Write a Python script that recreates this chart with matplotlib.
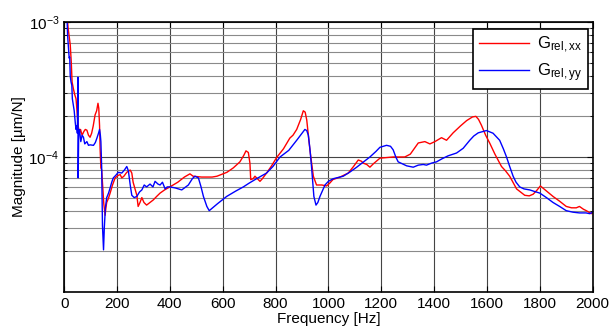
import matplotlib
matplotlib.use("Agg")
import matplotlib.pyplot as plt
from matplotlib.ticker import FixedLocator, LogLocator, NullFormatter, FixedFormatter

plt.rcParams['font.family'] = ['Liberation Sans', 'DejaVu Sans']
plt.rcParams['mathtext.fontset'] = 'custom'
plt.rcParams['mathtext.rm'] = 'Liberation Sans'
plt.rcParams['mathtext.it'] = 'Liberation Sans'

freq_xx = [5, 10, 15, 20, 23, 27, 30, 35, 40, 45, 50, 53, 58, 62, 68, 75, 80, 86, 92, 98, 104, 110, 117, 123, 128, 131, 134, 136, 139, 142, 146, 150, 155, 158, 161, 167, 174, 183, 193, 204, 212, 218, 226, 237, 250, 256, 261, 268, 275, 280, 287, 294, 302, 312, 325, 337, 350, 363, 380, 400, 430, 455, 476, 488, 520, 560, 578, 616, 640, 665, 680, 688, 697, 703, 706, 715, 722, 728, 741, 750, 766, 785, 804, 830, 854, 866, 880, 895, 905, 912, 918, 930, 943, 955, 975, 993, 1005, 1017, 1044, 1075, 1095, 1113, 1125, 1132, 1145, 1157, 1170, 1195, 1220, 1245, 1270, 1289, 1310, 1340, 1365, 1384, 1403, 1428, 1447, 1460, 1472, 1500, 1523, 1545, 1558, 1568, 1579, 1595, 1611, 1630, 1655, 1670, 1686, 1712, 1743, 1760, 1775, 1790, 1802, 1825, 1850, 1875, 1900, 1920, 1938, 1950, 1965, 1976, 1995, 2000]
mag_xx = [1.5e-3, 1.2e-3, 9e-4, 7.5e-4, 6.8e-4, 5e-4, 3.6e-4, 3.2e-4, 2.9e-4, 2.7e-4, 2.0e-4, 1.7e-4, 1.5e-4, 1.6e-4, 1.45e-4, 1.55e-4, 1.6e-4, 1.58e-4, 1.45e-4, 1.4e-4, 1.5e-4, 1.7e-4, 2.05e-4, 2.2e-4, 2.5e-4, 2.3e-4, 1.7e-4, 1.16e-4, 8.3e-5, 8.0e-5, 6e-5, 4.5e-5, 3.7e-5, 4.2e-5, 4.6e-5, 4.9e-5, 5.4e-5, 6.2e-5, 7e-5, 7.3e-5, 7.4e-5, 7e-5, 7.2e-5, 7.7e-5, 8e-5, 7.6e-5, 6.5e-5, 5.8e-5, 5.2e-5, 4.3e-5, 4.6e-5, 5e-5, 4.6e-5, 4.4e-5, 4.6e-5, 4.8e-5, 5.1e-5, 5.4e-5, 5.7e-5, 6e-5, 6.5e-5, 7.1e-5, 7.5e-5, 7.2e-5, 7.1e-5, 7.1e-5, 7.2e-5, 7.7e-5, 8.3e-5, 9.2e-5, 1.03e-4, 1.11e-4, 1.08e-4, 9e-5, 6.8e-5, 6.9e-5, 7.2e-5, 7e-5, 6.6e-5, 6.9e-5, 7.6e-5, 8.6e-5, 9.9e-5, 1.15e-4, 1.38e-4, 1.45e-4, 1.6e-4, 1.9e-4, 2.2e-4, 2.15e-4, 1.88e-4, 1.13e-4, 7.2e-5, 6.2e-5, 6.2e-5, 6.1e-5, 6.4e-5, 6.8e-5, 7.1e-5, 7.6e-5, 8.5e-5, 9.5e-5, 9.3e-5, 9e-5, 8.8e-5, 8.4e-5, 8.9e-5, 9.8e-5, 9.9e-5, 1.0e-4, 1.0e-4, 1.0e-4, 1.05e-4, 1.27e-4, 1.3e-4, 1.25e-4, 1.3e-4, 1.39e-4, 1.33e-4, 1.42e-4, 1.51e-4, 1.7e-4, 1.86e-4, 1.98e-4, 2.0e-4, 1.9e-4, 1.72e-4, 1.45e-4, 1.26e-4, 1.05e-4, 8.5e-5, 7.9e-5, 7.2e-5, 5.8e-5, 5.2e-5, 5.15e-5, 5.3e-5, 5.7e-5, 6.1e-5, 5.6e-5, 5.1e-5, 4.7e-5, 4.3e-5, 4.2e-5, 4.2e-5, 4.3e-5, 4.1e-5, 4.0e-5, 3.8e-5, 3.85e-5]

freq_yy = [5, 10, 13, 16, 19, 21, 23, 26, 29, 31, 35, 38, 42, 45, 48, 50, 52, 53, 55, 58, 63, 68, 73, 78, 86, 92, 98, 111, 118, 124, 130, 134, 137, 139, 142, 145, 149, 152, 156, 161, 168, 174, 180, 186, 195, 205, 218, 228, 237, 243, 250, 256, 265, 275, 285, 294, 303, 312, 325, 336, 344, 355, 363, 372, 382, 390, 400, 420, 445, 470, 485, 495, 508, 518, 527, 540, 549, 580, 615, 650, 678, 700, 728, 766, 790, 817, 850, 880, 900, 911, 918, 924, 930, 936, 945, 953, 960, 968, 987, 1000, 1018, 1056, 1080, 1107, 1130, 1157, 1180, 1195, 1220, 1235, 1245, 1255, 1264, 1296, 1321, 1340, 1359, 1371, 1390, 1409, 1430, 1453, 1485, 1510, 1535, 1550, 1567, 1598, 1623, 1648, 1662, 1674, 1686, 1699, 1710, 1724, 1740, 1762, 1780, 1800, 1825, 1850, 1875, 1900, 1925, 1950, 1975, 1989, 2000]
mag_yy = [1.5e-3, 1.2e-3, 8e-4, 6.5e-4, 5.4e-4, 5.5e-4, 4.0e-4, 3.6e-4, 3.4e-4, 2.7e-4, 2.4e-4, 2.2e-4, 1.8e-4, 1.6e-4, 1.7e-4, 1.5e-4, 3.9e-4, 7e-5, 1.5e-4, 1.6e-4, 1.3e-4, 1.45e-4, 1.4e-4, 1.25e-4, 1.3e-4, 1.22e-4, 1.23e-4, 1.22e-4, 1.28e-4, 1.38e-4, 1.5e-4, 1.6e-4, 1.45e-4, 1.3e-4, 8.3e-5, 3.1e-5, 2.05e-5, 3.0e-5, 4.2e-5, 5e-5, 5.4e-5, 5.9e-5, 6.5e-5, 7e-5, 7.3e-5, 7.7e-5, 7.6e-5, 8e-5, 8.5e-5, 7.9e-5, 6.2e-5, 5.2e-5, 5.0e-5, 5.1e-5, 5.5e-5, 5.7e-5, 6.2e-5, 6.0e-5, 6.3e-5, 6.0e-5, 6.6e-5, 6.3e-5, 6.2e-5, 6.5e-5, 5.8e-5, 6.0e-5, 6.0e-5, 5.9e-5, 5.7e-5, 6.2e-5, 6.9e-5, 7.2e-5, 7e-5, 6.0e-5, 5.1e-5, 4.3e-5, 4.0e-5, 4.5e-5, 5.1e-5, 5.6e-5, 6e-5, 6.4e-5, 6.9e-5, 7.6e-5, 8.5e-5, 1.0e-4, 1.12e-4, 1.33e-4, 1.5e-4, 1.6e-4, 1.57e-4, 1.45e-4, 1.15e-4, 8.5e-5, 5.1e-5, 4.4e-5, 4.6e-5, 5.1e-5, 6.2e-5, 6.6e-5, 6.9e-5, 7.2e-5, 7.7e-5, 8.4e-5, 9.1e-5, 1.0e-4, 1.1e-4, 1.18e-4, 1.22e-4, 1.2e-4, 1.13e-4, 1.0e-4, 9.2e-5, 8.6e-5, 8.4e-5, 8.7e-5, 8.8e-5, 8.7e-5, 9e-5, 9.2e-5, 9.7e-5, 1.02e-4, 1.07e-4, 1.16e-4, 1.33e-4, 1.43e-4, 1.51e-4, 1.57e-4, 1.5e-4, 1.33e-4, 1.15e-4, 1.0e-4, 8.5e-5, 7.2e-5, 6.5e-5, 6.0e-5, 5.8e-5, 5.7e-5, 5.55e-5, 5.4e-5, 5.0e-5, 4.6e-5, 4.3e-5, 4.0e-5, 3.9e-5, 3.85e-5, 3.85e-5, 3.8e-5, 3.9e-5]

x_ticks = [0, 200, 400, 600, 800, 1000, 1200, 1400, 1600, 1800, 2000]
y_ticks = [1e-4, 1e-3]
y_tick_labels = ['$10^{-4}$', '$10^{-3}$']
labels = ['G$_{\\mathrm{rel,xx}}$', 'G$_{\\mathrm{rel,yy}}$']

fig = plt.figure(figsize=(6.11, 3.34), dpi=100)
ax = fig.add_axes([0.105, 0.126, 0.865, 0.808])

ax.semilogy(freq_xx, mag_xx, color='#ff0000', lw=1.0, label=labels[0])
ax.semilogy(freq_yy, mag_yy, color='#0000ff', lw=1.0, label=labels[1])

ax.set_xlim(0, 2000)
ax.set_ylim(1e-5, 1e-3)
ax.xaxis.set_major_locator(FixedLocator(x_ticks))
ax.yaxis.set_major_locator(FixedLocator(y_ticks))
ax.yaxis.set_major_formatter(FixedFormatter(y_tick_labels))
ax.yaxis.set_minor_locator(LogLocator(base=10, subs=range(2, 10)))
ax.yaxis.set_minor_formatter(NullFormatter())

ax.grid(True, which='major', color='#444444', lw=0.8)
ax.grid(True, which='minor', axis='y', color='#8a8a8a', lw=0.8)
ax.set_axisbelow(True)

ax.tick_params(which='both', direction='in', top=True, right=True, labelsize=11, colors='black')
ax.tick_params(which='major', length=4)
ax.tick_params(which='minor', length=2.5)
for s in ax.spines.values():
    s.set_linewidth(1.2)

ax.set_xlabel('Frequency [Hz]', fontsize=11, labelpad=1)
ax.set_ylabel('Magnitude [µm/N]', fontsize=11, labelpad=2)

leg = ax.legend(loc='upper right', fontsize=12, frameon=True, fancybox=False,
                edgecolor='black', framealpha=1, borderaxespad=0,
                handlelength=3.0, handletextpad=0.5, labelspacing=0.35,
                borderpad=0.35, bbox_to_anchor=(0.9905, 0.974))
leg.get_frame().set_linewidth(1.2)

fig.savefig('out.png', dpi=100)
